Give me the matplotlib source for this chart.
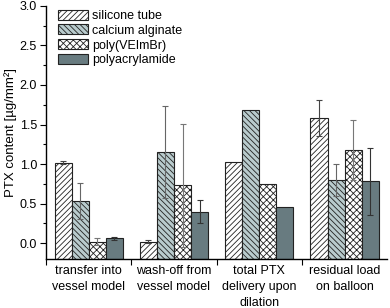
import numpy as np
import matplotlib
matplotlib.use("Agg")
import matplotlib.pyplot as plt
from matplotlib.ticker import MultipleLocator

plt.rcParams['font.family'] = ['Liberation Sans', 'DejaVu Sans']
plt.rcParams['hatch.linewidth'] = 0.6

categories = ['transfer into\nvessel model', 'wash-off from\nvessel model',
              'total PTX\ndelivery upon\ndilation', 'residual load\non balloon']
series = ['silicone tube', 'calcium alginate', 'poly(VEImBr)', 'polyacrylamide']
silicone = [1.02, 0.02, 1.03, 1.58]
silicone_err = [0.02, 0.015, 0, 0.23]
alginate = [0.53, 1.15, 1.68, 0.80]
alginate_err = [0.23, 0.58, 0, 0.20]
vei = [0.02, 0.73, 0.75, 1.18]
vei_err = [0.04, 0.78, 0, 0.38]
pam = [0.06, 0.40, 0.46, 0.78]
pam_err = [0.02, 0.14, 0, 0.42]

values = [silicone, alginate, vei, pam]
errors = [silicone_err, alginate_err, vei_err, pam_err]
colors = ['white', '#b9cbcd', 'white', '#687b80']
hatches = ['//////', '\\\\\\\\\\\\', 'xxxxx', '']
ecols = ['#444444', '#666666', '#777777', '#333333']

ybase = -0.2  # bars start at the bottom of the axis

fig = plt.figure(figsize=(3.9, 3.08), dpi=100)
ax = fig.add_axes([0.118, 0.159, 0.875, 0.822])

x = np.arange(len(categories))
w = 0.2
for i in range(4):
    pos = x + (i - 1.5) * w
    v = np.array(values[i])
    err = np.array(errors[i])
    ax.bar(pos, v - ybase, w, bottom=ybase, color=colors[i], hatch=hatches[i],
           edgecolor='#222222', linewidth=0.8, label=series[i], zorder=2)
    mask = err > 0
    ax.errorbar(pos[mask], v[mask], yerr=err[mask], fmt='none',
                ecolor=ecols[i], elinewidth=0.8, capsize=2.5, capthick=0.8, zorder=3)

ax.set_xlim(-0.5, 3.5)
ax.set_ylim(-0.2, 3.0)
ax.set_xticks(x)
ax.set_xticklabels(categories, fontsize=9, linespacing=1.45)
ax.set_xticks([-0.5, 0.5, 1.5, 2.5], minor=True)
ax.tick_params(axis='x', which='major', length=0, pad=4)
ax.tick_params(axis='x', which='minor', length=4, width=0.8, direction='out')
ax.yaxis.set_major_locator(MultipleLocator(0.5))
ax.yaxis.set_minor_locator(MultipleLocator(0.25))
ax.tick_params(axis='y', which='major', length=4, width=0.8, labelsize=9, pad=2.5)
ax.tick_params(axis='y', which='minor', length=2.5, width=0.8)
ax.set_ylabel('PTX content [µg/mm²]', fontsize=9.5)
ax.yaxis.set_label_coords(-0.086, 0.5)

for s in ['top', 'right']:
    ax.spines[s].set_visible(False)
for s in ['left', 'bottom']:
    ax.spines[s].set_linewidth(1.0)

ax.legend(loc='upper left', frameon=False, fontsize=9, handlelength=2.4,
          handleheight=0.85, labelspacing=0.2, borderaxespad=0.0,
          bbox_to_anchor=(0.02, 1.005), handletextpad=0.35)

fig.savefig('out.png', dpi=100)
